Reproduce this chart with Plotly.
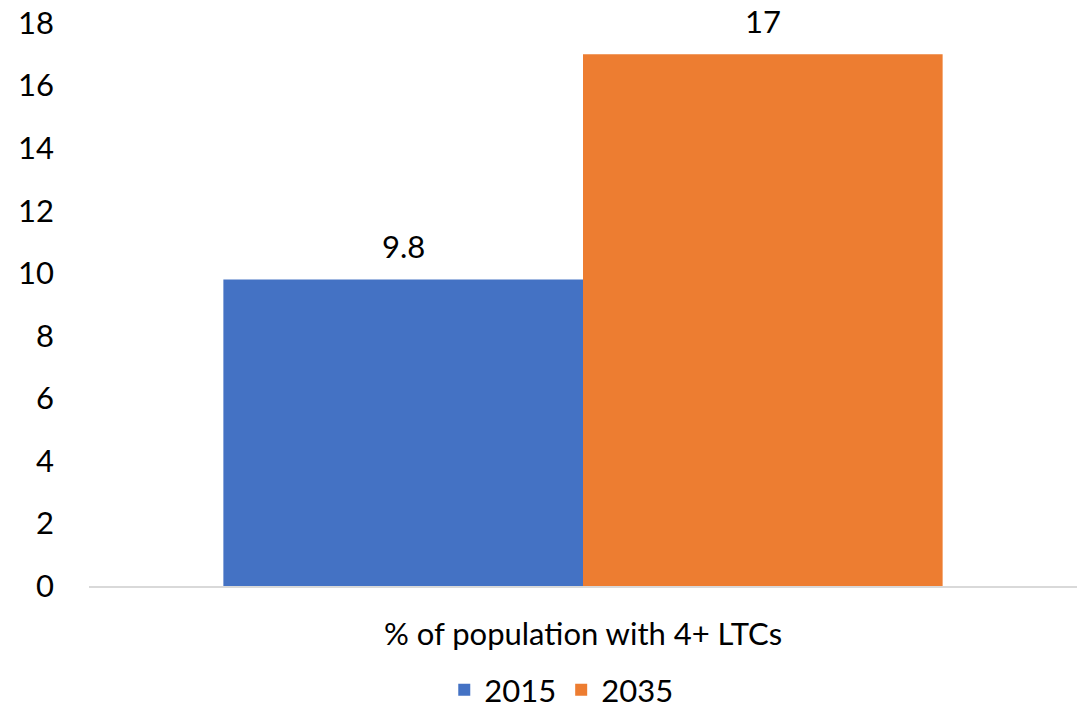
import plotly.graph_objects as go

# Share of population living with 4+ long-term conditions
category = ["% of population with 4+ LTCs"]
years = ["2015", "2035"]
values = [9.8, 17]
colors = ["#4472C4", "#ED7D31"]

y_ticks = [0, 2, 4, 6, 8, 10, 12, 14, 16, 18]

FONT = "Lato, 'Open Sans', sans-serif"
FS = 31
BARGAP = 0.272

fig = go.Figure()
for year, val, col in zip(years, values, colors):
    fig.add_trace(go.Bar(
        x=category, y=[val], name=year,
        marker=dict(color=col, line=dict(width=0)),
    ))

# value labels centred over each bar of the group
n = len(years)
slot = (1 - BARGAP) / n
for i, val in enumerate(values):
    xc = -(1 - BARGAP) / 2 + slot * (i + 0.5)
    fig.add_annotation(
        x=xc, y=val, xref="x", yref="y",
        text=f"{val:g}", showarrow=False, yshift=33, yanchor="middle",
        font=dict(family=FONT, size=FS, color="#000000"),
    )

fig.update_layout(
    width=1082, height=713,
    margin=dict(l=89, r=5, t=23, b=127, autoexpand=False),
    paper_bgcolor="white", plot_bgcolor="white",
    barmode="group", bargap=BARGAP, bargroupgap=0,
    font=dict(family=FONT, size=FS, color="#000000"),
    showlegend=True,
    legend=dict(
        orientation="h", x=0.478, xanchor="center",
        yref="container", y=0.032, yanchor="middle",
        font=dict(family=FONT, size=FS), traceorder="normal",
    ),
    xaxis=dict(
        showgrid=False, showline=True, linecolor="#D9D9D9", linewidth=2,
        ticks="", tickfont=dict(family=FONT, size=FS), ticklabelstandoff=20,
        automargin=False,
    ),
    yaxis=dict(
        range=[0, 18], tickvals=y_ticks, showgrid=False, zeroline=False,
        showline=False, ticks="", tickfont=dict(family=FONT, size=FS),
        ticklabelstandoff=34, automargin=False,
    ),
)

fig.write_html("out.html")
